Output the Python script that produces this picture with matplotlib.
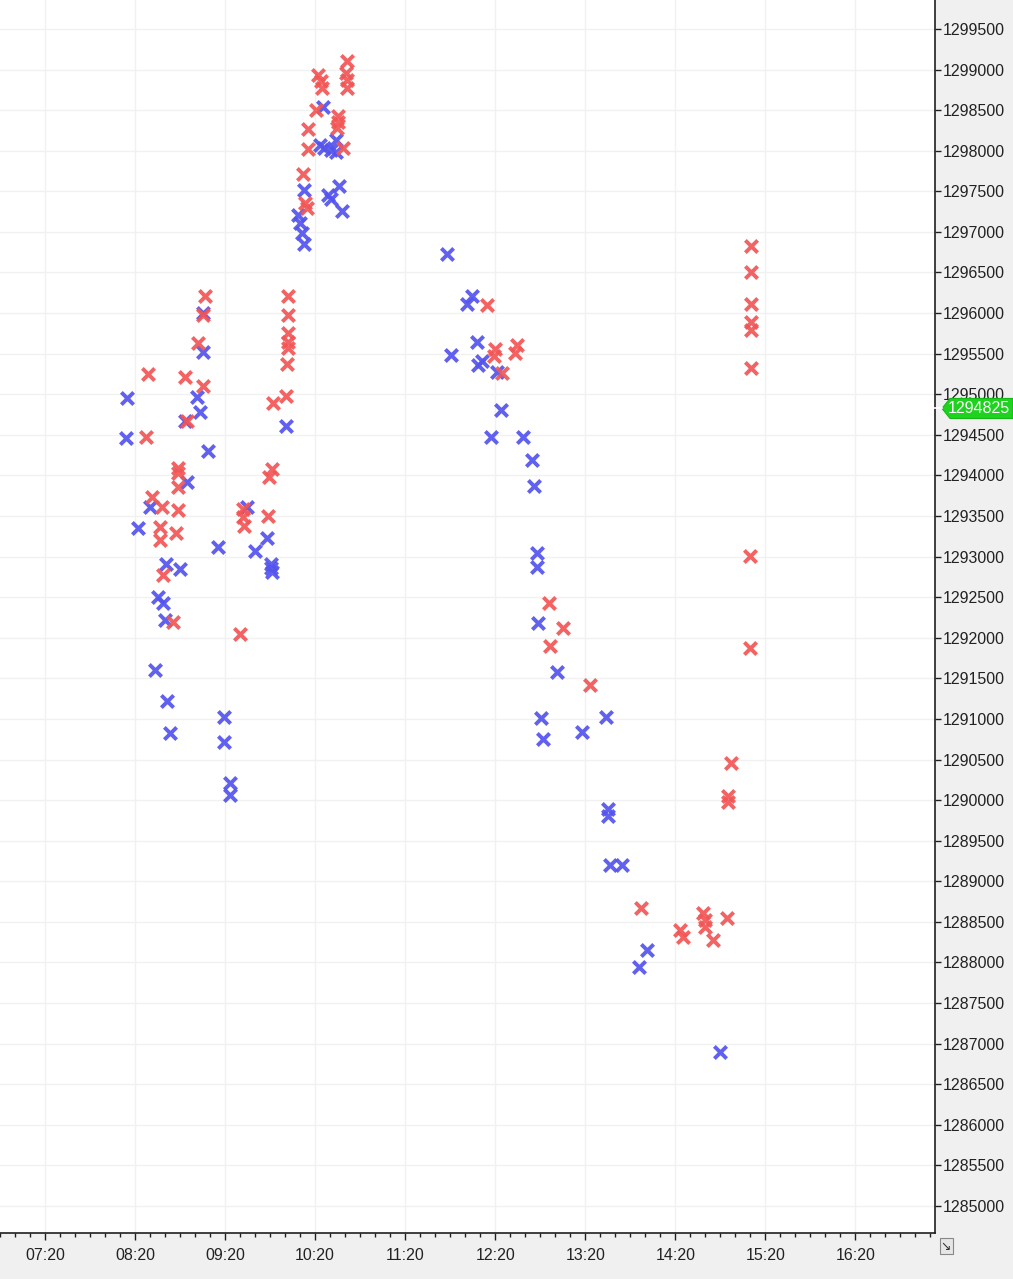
import matplotlib
matplotlib.use("Agg")
import matplotlib.pyplot as plt
import matplotlib.dates as mdates
from matplotlib.patches import Polygon
from matplotlib.transforms import blended_transform_factory
import pandas as pd

DAY = "2024-01-02 "

blue_times = ["08:14:40", "08:14:00", "08:22:00", "08:30:00", "08:40:40", "08:50:00",
              "08:35:20", "08:38:40", "08:40:00", "08:33:20", "08:41:20", "08:43:20",
              "09:19:20", "09:19:20", "09:23:20", "09:23:20", "09:15:20", "09:40:00",
              "09:01:20", "09:03:20", "08:53:20", "09:08:40", "08:54:40", "09:05:20",
              "09:05:20", "09:34:40", "09:48:00", "09:50:40", "09:50:40", "09:51:20",
              "10:00:40", "10:25:20", "10:23:20", "10:26:00", "10:30:40", "10:34:00",
              "10:34:00", "10:36:00", "10:28:40", "10:30:40", "10:38:00", "10:12:40",
              "10:08:40", "10:10:00", "10:11:20", "10:12:40", "11:48:00", "12:04:40",
              "12:01:20", "12:08:00", "11:50:40", "12:11:20", "12:08:40", "12:21:20",
              "12:24:00", "12:17:20", "12:38:40", "12:44:40", "12:46:00", "12:48:00",
              "12:48:00", "12:48:40", "13:01:20", "12:50:40", "12:52:00", "13:18:00",
              "13:34:00", "13:35:20", "13:35:20", "13:36:40", "13:44:40", "14:01:20",
              "13:56:00", "14:50:00"]
blue_prices = [1294955, 1294460, 1293350, 1293610, 1292910, 1292845,
               1292500, 1292430, 1292220, 1291605, 1291220, 1290825,
               1291025, 1290715, 1290210, 1290065, 1293120, 1293070,
               1294965, 1294780, 1294670, 1294300, 1293920, 1296000,
               1295520, 1293610, 1293230, 1292910, 1292860, 1292810,
               1294610, 1298540, 1298070, 1298035, 1298010, 1298130,
               1297985, 1297565, 1297455, 1297405, 1297260, 1297515,
               1297210, 1297110, 1296985, 1296850, 1296730, 1296210,
               1296110, 1295645, 1295485, 1295410, 1295360, 1295275,
               1294805, 1294475, 1294475, 1294190, 1293870, 1293045,
               1292870, 1292180, 1291580, 1291010, 1290755, 1290840,
               1291025, 1289890, 1289805, 1289200, 1289200, 1288155,
               1287945, 1286895]

red_times = ["08:28:40", "08:53:20", "09:05:20", "08:54:40", "08:27:20", "08:48:40",
             "08:48:40", "08:48:40", "08:31:20", "08:38:00", "08:48:40", "08:36:40",
             "08:36:40", "08:47:20", "08:38:40", "08:45:20", "09:30:00", "09:06:40",
             "09:05:20", "09:02:00", "09:32:00", "09:32:00", "09:32:40", "09:49:20",
             "09:51:20", "09:48:40", "09:52:00", "10:00:40", "10:02:00", "10:02:00",
             "10:02:00", "10:02:00", "10:02:00", "10:01:20", "10:12:00", "10:13:20",
             "10:14:40", "10:15:20", "10:15:20", "10:20:40", "10:22:00", "10:24:00",
             "10:24:40", "10:35:20", "10:35:20", "10:34:40", "10:38:40", "10:41:20",
             "10:40:40", "10:41:20", "10:41:20", "12:14:40", "12:20:00", "12:19:20",
             "12:34:40", "12:33:20", "12:24:40", "12:56:00", "13:05:20", "12:56:40",
             "13:23:20", "13:57:20", "14:23:20", "14:25:20", "14:38:40", "14:40:00",
             "14:40:00", "14:45:20", "14:54:40", "14:57:20", "14:55:20", "14:55:20",
             "15:10:40", "15:10:40", "15:10:40", "15:10:40", "15:10:40", "15:10:40",
             "15:10:00", "15:10:00"]
red_prices = [1295250, 1295215, 1295100, 1294670, 1294475, 1294090,
              1294030, 1293855, 1293735, 1293610, 1293575, 1293365,
              1293205, 1293290, 1292775, 1292195, 1292045, 1296210,
              1295975, 1295630, 1293585, 1293490, 1293375, 1293980,
              1294080, 1293500, 1294890, 1294980, 1296210, 1295975,
              1295755, 1295645, 1295570, 1295375, 1297715, 1297355,
              1297295, 1298270, 1298020, 1298500, 1298935, 1298860,
              1298775, 1298430, 1298355, 1298280, 1298035, 1299105,
              1298960, 1298870, 1298775, 1296100, 1295560, 1295470,
              1295605, 1295510, 1295260, 1292430, 1292120, 1291900,
              1291420, 1288670, 1288400, 1288315, 1288610, 1288525,
              1288435, 1288275, 1288550, 1290455, 1290050, 1289975,
              1296825, 1296505, 1296110, 1295890, 1295790, 1295325,
              1293005, 1291875]

last_price = 1294825
y_ticks = list(range(1285000, 1300000, 500))
x_range = ("06:50", "17:13")

bt = pd.to_datetime([DAY + t for t in blue_times])
rt = pd.to_datetime([DAY + t for t in red_times])

W, H = 1013, 1279
fig = plt.figure(figsize=(W / 100, H / 100), dpi=100, facecolor="#f0f0f0")
ax = fig.add_axes([0, 46 / H, 935 / W, 1233 / H])
ax.set_facecolor("white")

FONT = ["Liberation Sans", "DejaVu Sans"]

ax.scatter(bt, blue_prices, marker="x", s=78, linewidths=2.8, color="#5454ee", alpha=0.92, zorder=3)
ax.scatter(rt, red_prices, marker="x", s=78, linewidths=2.8, color="#f25656", alpha=0.92, zorder=3)

ax.set_xlim(pd.Timestamp(DAY + x_range[0]), pd.Timestamp(DAY + x_range[1]))
ax.set_ylim(1284667, 1299857)

ax.xaxis.set_major_locator(mdates.MinuteLocator(byminute=[20]))
ax.xaxis.set_minor_locator(mdates.MinuteLocator(byminute=[0, 10, 20, 30, 40, 50]))
ax.xaxis.set_major_formatter(mdates.DateFormatter("%H:%M"))
ax.set_yticks(y_ticks)
ax.yaxis.set_major_formatter(plt.FuncFormatter(lambda v, p: f"{int(v)}"))
ax.yaxis.tick_right()

ax.grid(True, which="major", color="#f1f1f1", linewidth=1.0, zorder=0)
ax.set_axisbelow(True)

for s in ["left", "top"]:
    ax.spines[s].set_visible(False)
for s in ["right", "bottom"]:
    ax.spines[s].set_color("#202020")
    ax.spines[s].set_linewidth(1.2)

ax.tick_params(axis="x", which="major", direction="out", length=5, width=1, color="#202020",
               pad=6, labelsize=11.5, labelcolor="#222222")
ax.tick_params(axis="x", which="minor", direction="out", length=3, width=1, color="#202020")
ax.tick_params(axis="y", which="major", direction="out", length=4, width=1, color="#202020",
               pad=1.5, labelsize=11.5, labelcolor="#222222", right=True, left=False)
for lab in ax.get_xticklabels() + ax.get_yticklabels():
    lab.set_family(FONT)

# last price marker on the right axis
tr = blended_transform_factory(fig.transFigure, ax.transData)
hh = 10 * (1299857 - 1284667) / 1233
x0, x1, x2 = 942 / W, 950 / W, 1.0
poly = Polygon([(x0, last_price), (x1, last_price + hh), (x2, last_price + hh),
                (x2, last_price - hh), (x1, last_price - hh)],
               closed=True, transform=tr, facecolor="#1ed31e", edgecolor="#14b814",
               lw=0.8, clip_on=False, zorder=5)
fig.add_artist(poly)
fig.text(979 / W, last_price, f"{last_price}", transform=tr, ha="center", va="center",
         color="white", fontsize=11.5, family=FONT, zorder=6)
fig.add_artist(plt.Line2D([928 / W, 942 / W], [last_price, last_price], transform=tr,
                          color="white", lw=1.2, zorder=5))

# corner icon
fig.text(946 / W, 1 - 1246 / H, "\u2198", ha="center", va="center", fontsize=9,
         color="#333333", family=["DejaVu Sans"],
         bbox=dict(boxstyle="square,pad=0.1", fc="#e6e6e6", ec="#888888", lw=0.8))

fig.savefig("out.png", dpi=100, facecolor=fig.get_facecolor())
